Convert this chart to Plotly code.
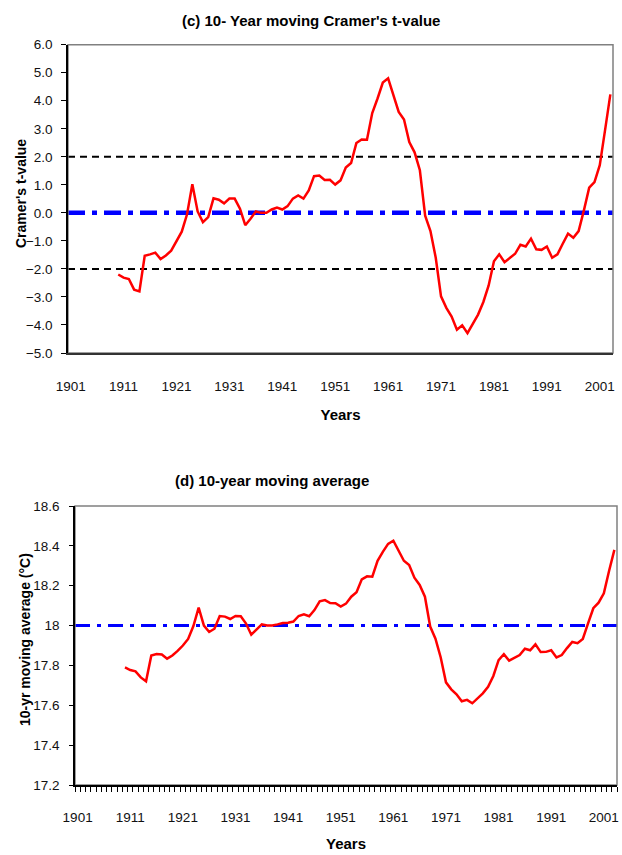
import plotly.graph_objects as go

# ---- data ----
start_year = 1910
t_values = [
    -2.20, -2.31, -2.36, -2.74, -2.80, -1.53, -1.48, -1.42, -1.65, -1.52,
    -1.35, -1.03, -0.67, -0.05, 1.02, 0.05, -0.33, -0.15, 0.52, 0.47,
    0.34, 0.51, 0.51, 0.15, -0.44, -0.21, 0.05, 0.00, 0.00, 0.12,
    0.19, 0.12, 0.24, 0.51, 0.62, 0.51, 0.80, 1.31, 1.33, 1.17,
    1.18, 1.01, 1.16, 1.62, 1.78, 2.49, 2.62, 2.61, 3.56, 4.08,
    4.65, 4.80, 4.17, 3.60, 3.33, 2.53, 2.16, 1.52, -0.10, -0.65,
    -1.60, -2.98, -3.39, -3.70, -4.17, -4.01, -4.29, -3.98, -3.63, -3.18,
    -2.59, -1.73, -1.48, -1.76, -1.61, -1.46, -1.14, -1.20, -0.92, -1.30,
    -1.32, -1.20, -1.60, -1.48, -1.10, -0.74, -0.89, -0.65, 0.09, 0.90,
    1.10, 1.70, 2.95, 4.23,
]
moving_avg = [
    17.79, 17.777, 17.77, 17.74, 17.72, 17.85, 17.857, 17.855, 17.834, 17.85,
    17.873, 17.90, 17.933, 17.998, 18.09, 18.0, 17.968, 17.984, 18.048, 18.045,
    18.033, 18.048, 18.047, 18.01, 17.954, 17.978, 18.006, 18.0, 18.0, 18.006,
    18.013, 18.014, 18.02, 18.048, 18.056, 18.047, 18.078, 18.122, 18.128, 18.113,
    18.112, 18.095, 18.11, 18.145, 18.167, 18.232, 18.247, 18.245, 18.325, 18.37,
    18.41, 18.426, 18.376, 18.325, 18.304, 18.24, 18.204, 18.145, 17.995, 17.934,
    17.84, 17.715, 17.68, 17.655, 17.62, 17.627, 17.61, 17.635, 17.66, 17.693,
    17.747, 17.827, 17.856, 17.824, 17.84, 17.852, 17.884, 17.876, 17.906, 17.867,
    17.868, 17.876, 17.84, 17.852, 17.887, 17.918, 17.912, 17.933, 18.011, 18.087,
    18.115, 18.162, 18.275, 18.38,
]
years = list(range(start_year, start_year + len(t_values)))
tick_years = list(range(1901, 2002, 10))
tick_labels = [str(y) for y in tick_years]
avg_ticks = [17.2, 17.4, 17.6, 17.8, 18.0, 18.2, 18.4, 18.6]
avg_tick_labels = ["17.2", "17.4", "17.6", "17.8", "18", "18.2", "18.4", "18.6"]
t_critical = [2.0, -2.0]
t_zero = 0.0
avg_ref = 18.0

FIG_W, FIG_H = 622, 855
FONT = "Liberation Sans, Arial, sans-serif"

def px_x(a, b):
    return [a / FIG_W, b / FIG_W]

def px_y(top, bottom):
    return [(FIG_H - bottom) / FIG_H, (FIG_H - top) / FIG_H]

def px_pt(x, y):
    return x / FIG_W, (FIG_H - y) / FIG_H

fig = go.Figure()

fig.add_trace(go.Scatter(x=years, y=t_values, mode="lines",
                         line=dict(color="#ff0000", width=2.5),
                         xaxis="x", yaxis="y", showlegend=False))
fig.add_trace(go.Scatter(x=years, y=moving_avg, mode="lines",
                         line=dict(color="#ff0000", width=2.5),
                         xaxis="x2", yaxis="y2", showlegend=False))

shapes = []
for v in t_critical:
    shapes.append(dict(type="line", xref="x domain", yref="y", x0=0, x1=1, y0=v, y1=v,
                       line=dict(color="black", width=2, dash="7px,5px"), layer="below"))
shapes.append(dict(type="line", xref="x domain", yref="y", x0=0, x1=1, y0=t_zero, y1=t_zero,
                   line=dict(color="#0000ff", width=4.5, dash="17px,7px,5px,7px"), layer="below"))
shapes.append(dict(type="line", xref="x2 domain", yref="y2", x0=0, x1=1, y0=avg_ref, y1=avg_ref,
                   line=dict(color="#0000ff", width=3, dash="15px,7px,4px,7px"), layer="below"))
# grey plot-area frame (top/right)
shapes.append(dict(type="rect", xref="x domain", yref="y domain", x0=0, x1=1, y0=0, y1=1,
                   line=dict(color="#808080", width=1.5), layer="below"))
shapes.append(dict(type="rect", xref="x2 domain", yref="y2 domain", x0=0, x1=1, y0=0, y1=1,
                   line=dict(color="#808080", width=1.5), layer="below"))

tickfont = dict(family=FONT, size=13.5, color="#111")
xtitlefont = dict(family=FONT, size=15, color="black")
ytitlefont = dict(family=FONT, size=14, color="black")

t1x, t1y = px_pt(311, 21)
t2x, t2y = px_pt(272, 480)
y1x, y1y = px_pt(21, 194)
y2x, y2y = px_pt(25, 640)

fig.update_layout(
    width=FIG_W, height=FIG_H,
    margin=dict(l=0, r=0, t=0, b=0),
    paper_bgcolor="white", plot_bgcolor="white",
    shapes=shapes,
    xaxis=dict(domain=px_x(68, 613), anchor="y", range=[1900.5, 2003.5], automargin=False,
               tickmode="array", tickvals=tick_years, ticktext=tick_labels,
               ticks="", showgrid=False, zeroline=False, ticklabeloverflow="allow",
               showline=True, linecolor="#333", linewidth=1.5,
               tickfont=tickfont, ticklabelstandoff=20,
               title=dict(text="<b>Years</b>", font=xtitlefont, standoff=17)),
    yaxis=dict(domain=px_y(44.7, 353), anchor="x", range=[-5, 6], automargin=False,
               tickmode="linear", tick0=-5, dtick=1, tickformat=".1f",
               ticks="outside", ticklen=5, tickcolor="black",
               showgrid=False, zeroline=False,
               showline=True, linecolor="black", linewidth=1.5,
               tickfont=tickfont, ticklabelstandoff=6),
    xaxis2=dict(domain=px_x(75, 617), anchor="y2", range=[1900.5, 2003.5], automargin=False,
                tickmode="array", tickvals=tick_years, ticktext=tick_labels,
                ticks="", showgrid=False, zeroline=False, ticklabeloverflow="allow",
                showline=True, linecolor="black", linewidth=1.5,
                minor=dict(ticks="outside", tick0=1900.5, dtick=1, ticklen=5,
                           tickcolor="black", showgrid=False),
                tickfont=tickfont, ticklabelstandoff=19,
                title=dict(text="<b>Years</b>", font=xtitlefont, standoff=15)),
    yaxis2=dict(domain=px_y(506, 785), anchor="x2", range=[17.2, 18.6], automargin=False,
                tickmode="array", tickvals=avg_ticks, ticktext=avg_tick_labels,
                ticks="outside", ticklen=4, tickcolor="black",
                showgrid=False, zeroline=False,
                showline=True, linecolor="black", linewidth=1.5,
                tickfont=tickfont, ticklabelstandoff=7),
    annotations=[
        dict(text="<b>(c) 10- Year moving Cramer's t-value</b>", xref="paper", yref="paper",
             x=t1x, y=t1y, xanchor="center", yanchor="middle",
             showarrow=False, font=dict(family=FONT, size=15, color="black")),
        dict(text="<b>(d) 10-year moving average</b>", xref="paper", yref="paper",
             x=t2x, y=t2y, xanchor="center", yanchor="middle",
             showarrow=False, font=dict(family=FONT, size=15, color="black")),
        dict(text="<b>Cramer's t-value</b>", xref="paper", yref="paper",
             x=y1x, y=y1y, xanchor="center", yanchor="middle", textangle=-90,
             showarrow=False, font=ytitlefont),
        dict(text="<b>10-yr moving average (°C)</b>", xref="paper", yref="paper",
             x=y2x, y=y2y, xanchor="center", yanchor="middle", textangle=-90,
             showarrow=False, font=ytitlefont),
    ],
)

fig.write_html(
    "out.html",
    config={"displayModeBar": False},
    post_script="document.body.style.margin='0';"
                "document.body.style.overflow='hidden';"
                "document.documentElement.style.overflow='hidden';",
)
